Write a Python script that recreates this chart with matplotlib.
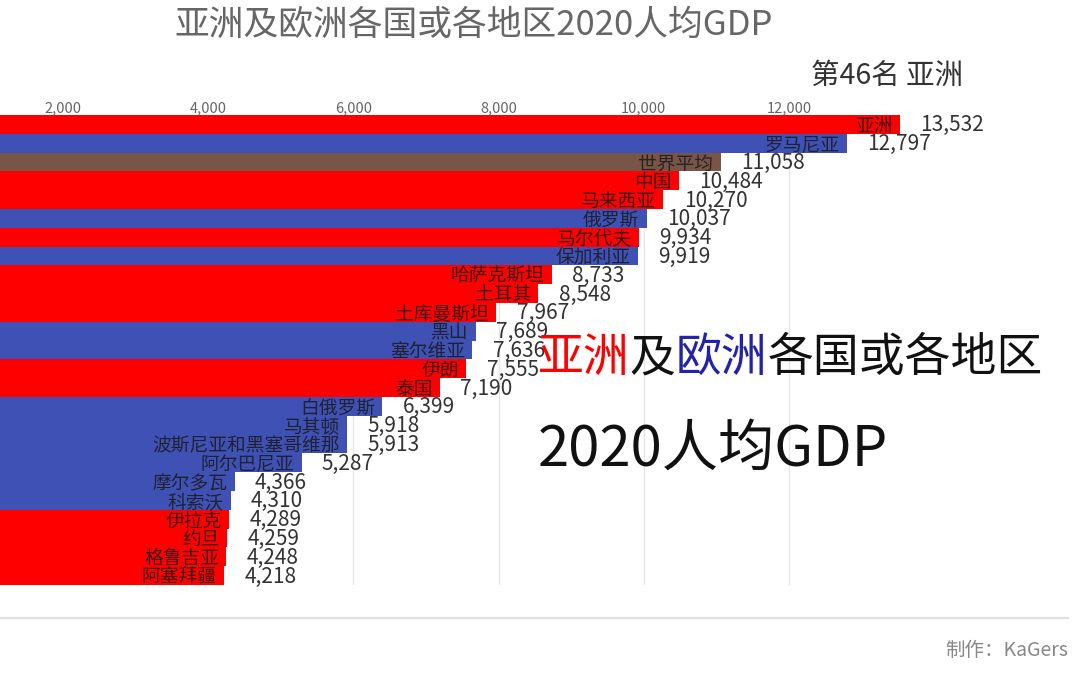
import matplotlib
matplotlib.use("Agg")
import matplotlib.pyplot as plt
from matplotlib.ticker import FuncFormatter

plt.rcParams['font.family'] = ['Noto Sans CJK SC', 'DejaVu Sans']

names = ["亚洲", "罗马尼亚", "世界平均", "中国", "马来西亚", "俄罗斯", "马尔代夫", "保加利亚",
         "哈萨克斯坦", "土耳其", "土库曼斯坦", "黑山", "塞尔维亚", "伊朗", "泰国", "白俄罗斯",
         "马其顿", "波斯尼亚和黑塞哥维那", "阿尔巴尼亚", "摩尔多瓦", "科索沃", "伊拉克", "约旦",
         "格鲁吉亚", "阿塞拜疆"]
values = [13532, 12797, 11058, 10484, 10270, 10037, 9934, 9919,
          8733, 8548, 7967, 7689, 7636, 7555, 7190, 6399,
          5918, 5913, 5287, 4366, 4310, 4289, 4259,
          4248, 4218]
groups = ["亚洲", "欧洲", "世界", "亚洲", "亚洲", "欧洲", "亚洲", "欧洲",
          "亚洲", "亚洲", "亚洲", "欧洲", "欧洲", "亚洲", "亚洲", "欧洲",
          "欧洲", "欧洲", "欧洲", "欧洲", "欧洲", "亚洲", "亚洲",
          "亚洲", "亚洲"]
xticks = [2000, 4000, 6000, 8000, 10000, 12000]

colors = {"亚洲": "#ff0000", "欧洲": "#3f51b5", "世界": "#795548"}

fig = plt.figure(figsize=(10.76, 6.73), dpi=100)
ax = fig.add_axes([0, 1 - 585 / 673, 1, 470 / 673])

n = len(values)
ypos = list(range(n))
ax.barh(ypos, values, height=1.0, color=[colors[g] for g in groups], zorder=2)
ax.set_ylim(n - 0.5, -0.5)
ax.set_xlim(1132, 1132 + 1076 / 0.0726)

for y, v, nm in zip(ypos, values, names):
    ax.text(v - 100, y + 0.1, nm, ha='right', va='center', fontsize=13.5,
            color='#1a1a1a', alpha=0.85, zorder=3)
    ax.text(v + 280, y + 0.05, f"{v:,}", ha='left', va='center', fontsize=15,
            color='#333333', zorder=3)

ax.xaxis.tick_top()
ax.set_xticks(xticks)
ax.xaxis.set_major_formatter(FuncFormatter(lambda x, p: f"{int(x):,}"))
ax.tick_params(axis='x', length=0, labelsize=10.5, labelcolor='#666666', pad=0)
ax.set_yticks([])
ax.grid(axis='x', color='#e6e6e6', linewidth=1, zorder=0)
for s in ax.spines.values():
    s.set_visible(False)

fig.text(474 / 1076, 1 - 25 / 673, "亚洲及欧洲各国或各地区2020人均GDP", ha='center', va='center',
         fontsize=25, color='#666666')
fig.text(887 / 1076, 1 - 76 / 673, "第46名 亚洲", ha='center', va='center',
         fontsize=20.5, color='#333333')

# big annotation with colored parts
x0 = 538 / 1076
yb = 1 - 358 / 673
parts = [("亚洲", "#ff0000"), ("及", "#111111"), ("欧洲", "#2222aa"), ("各国或各地区", "#111111")]
renderer = fig.canvas.get_renderer()
xc = x0
for t, c in parts:
    tx = fig.text(xc, yb, t, ha='left', va='center', fontsize=33, color=c)
    bb = tx.get_window_extent(renderer=renderer)
    xc += bb.width / fig.bbox.width
fig.text(x0, 1 - 450 / 673, "2020人均GDP", ha='left', va='center', fontsize=40.5, color='#111111')

fig.add_artist(plt.Line2D([0, 1068 / 1076], [1 - 618 / 673, 1 - 618 / 673],
                          color='#e0e0e0', linewidth=1.5, transform=fig.transFigure))
fig.text(1068 / 1076, 1 - 650 / 673, "制作：KaGers", ha='right', va='center',
         fontsize=14, color='#888888')

fig.savefig("out.png", dpi=100)
